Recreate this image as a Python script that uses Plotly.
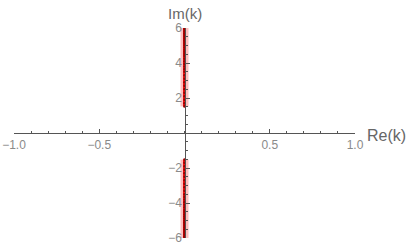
import plotly.graph_objects as go

# Data: points on the imaginary axis (Re(k)=0)
im_upper = [1.52, 1.7, 1.9, 2.1, 2.3, 2.5, 2.7, 2.9, 3.1, 3.3, 3.5, 3.65, 3.8, 3.95,
            4.1, 4.25, 4.4, 4.52, 4.64, 4.76, 4.88, 5.0, 5.1, 5.2, 5.3, 5.4, 5.5,
            5.6, 5.7, 5.8, 5.9, 6.0]
im_lower = [-v for v in im_upper]
re_upper = [0.0] * len(im_upper)
re_lower = [0.0] * len(im_lower)

x_ticks = [-1.0, -0.5, 0.5, 1.0]
x_ticktext = ["\u22121.0", "\u22120.5", "0.5", "1.0"]
y_ticks = [-6, -4, -2, 2, 4, 6]
y_ticktext = ["\u22126", "\u22124", "\u22122", "2", "4", "6"]

fig = go.Figure()
for re, im in [(re_upper, im_upper), (re_lower, im_lower)]:
    fig.add_trace(go.Scatter(x=re, y=im, mode="lines",
                             line=dict(color="rgba(255,70,70,0.35)", width=8),
                             hoverinfo="skip", showlegend=False))
    fig.add_trace(go.Scatter(x=re, y=im, mode="lines",
                             line=dict(color="#f01010", width=3),
                             showlegend=False))
    fig.add_trace(go.Scatter(x=re, y=im, mode="markers",
                             marker=dict(color="#9a0000", size=2.6),
                             showlegend=False))

axis_col = "#555555"
lab_col = "#8a8a8a"
fig.update_layout(
    width=409, height=248,
    margin=dict(l=14, r=54, t=28, b=10),
    paper_bgcolor="white", plot_bgcolor="white",
    font=dict(family="Liberation Sans, Arial, sans-serif", color=lab_col, size=12),
    xaxis=dict(range=[-1, 1], anchor="free", position=0.5, automargin=False,
               showgrid=False, zeroline=False, showline=True, linecolor=axis_col, linewidth=1.2,
               tickmode="array", tickvals=x_ticks, ticktext=x_ticktext,
               ticks="inside", ticklen=4, tickcolor=axis_col, tickwidth=1,
               minor=dict(dtick=0.1, tick0=0, ticks="inside", ticklen=2, tickcolor=axis_col, showgrid=False),
               tickfont=dict(color=lab_col, size=12)),
    yaxis=dict(range=[-6, 6], anchor="free", position=0.5, automargin=False,
               showgrid=False, zeroline=False, showline=True, linecolor=axis_col, linewidth=1.2,
               tickmode="array", tickvals=y_ticks, ticktext=y_ticktext,
               ticks="inside", ticklen=4, tickcolor=axis_col, tickwidth=1,
               minor=dict(dtick=0.5, tick0=0, ticks="inside", ticklen=2, tickcolor=axis_col, showgrid=False),
               tickfont=dict(color=lab_col, size=12)),
    annotations=[
        dict(text="Re(k)", x=1, y=0, xref="x", yref="y", xanchor="left", yanchor="middle",
             xshift=10, yshift=-2, showarrow=False, font=dict(size=16, color="#666666")),
        dict(text="Im(k)", x=0, y=6, xref="x", yref="y", xanchor="center", yanchor="bottom",
             yshift=4, showarrow=False, font=dict(size=15, color="#666666")),
    ],
)

fig.write_html("out.html", config={"displayModeBar": False},
               post_script="document.body.style.margin='0';")
